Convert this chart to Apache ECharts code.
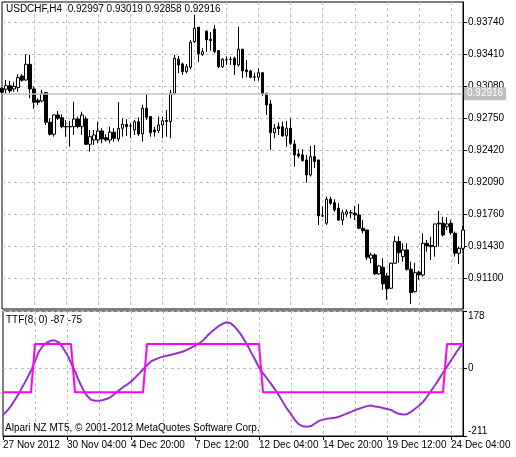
<!DOCTYPE html>
<html>
<head>
<meta charset="utf-8">
<title>USDCHF H4 TTF</title>
<script src="https://cdn.jsdelivr.net/npm/echarts@6/dist/echarts.min.js"></script>
<style>html,body{margin:0;padding:0;background:#fff}</style>
</head>
<body>
<div id="main" style="width:516px;height:457px;"></div>
<script>
// bottom axis labels, one every 16 bars
var tickLabels = ['27 Nov 2012', '30 Nov 04:00', '4 Dec 20:00', '7 Dec 12:00',
    '12 Dec 04:00', '14 Dec 20:00', '19 Dec 12:00', '24 Dec 04:00'];
var priceTicks = [0.91100, 0.91430, 0.91760, 0.92090, 0.92420, 0.92750, 0.93080, 0.93410, 0.93740];
var ttfTicks = [-211, 0, 178];
var bidPrice = 0.92916;

// USDCHF H4 bars
var opens = [
    0.93056, 0.93046, 0.93083, 0.93049, 0.93063, 0.93183, 0.93142, 0.93304,
    0.93049, 0.92933, 0.92925, 0.93011, 0.92706, 0.92582, 0.92781, 0.92753,
    0.92662, 0.92658, 0.92660, 0.92740, 0.92660, 0.92740, 0.92479, 0.92523,
    0.92523, 0.92616, 0.92547, 0.92523, 0.92603, 0.92534, 0.92644, 0.92685,
    0.92666, 0.92626, 0.92712, 0.92585, 0.92850, 0.92764, 0.92626, 0.92619,
    0.92678, 0.92724, 0.92712, 0.93005, 0.93356, 0.93307, 0.93228, 0.93273,
    0.93537, 0.93686, 0.93407, 0.93647, 0.93560, 0.93665, 0.93444, 0.93279,
    0.93346, 0.93352, 0.93366, 0.93297, 0.93459, 0.93244, 0.93235, 0.93171,
    0.93170, 0.93217, 0.93005, 0.92895, 0.92599, 0.92660, 0.92660, 0.92565,
    0.92644, 0.92482, 0.92379, 0.92369, 0.92317, 0.92162, 0.92351, 0.92317,
    0.91738, 0.91665, 0.91912, 0.91877, 0.91819, 0.91697, 0.91760, 0.91771,
    0.91767, 0.91750, 0.91613, 0.91595, 0.91303, 0.91337, 0.91142, 0.91211,
    0.91121, 0.90994, 0.91252, 0.91475, 0.91320, 0.91389, 0.91190, 0.90959,
    0.91162, 0.91131, 0.91458, 0.91437, 0.91423, 0.91665, 0.91665, 0.91629,
    0.91665, 0.91561, 0.91355, 0.91406
];
var closes = [
    0.93015, 0.93083, 0.93029, 0.93077, 0.93166, 0.93139, 0.93304, 0.93049,
    0.92912, 0.92912, 0.93005, 0.92706, 0.92582, 0.92781, 0.92747, 0.92660,
    0.92658, 0.92661, 0.92740, 0.92660, 0.92781, 0.92479, 0.92557, 0.92575,
    0.92616, 0.92534, 0.92523, 0.92603, 0.92541, 0.92644, 0.92685, 0.92660,
    0.92670, 0.92712, 0.92585, 0.92850, 0.92757, 0.92599, 0.92606, 0.92678,
    0.92722, 0.92714, 0.93005, 0.93366, 0.93297, 0.93228, 0.93279, 0.93531,
    0.93675, 0.93410, 0.93434, 0.93555, 0.93549, 0.93434, 0.93279, 0.93356,
    0.93350, 0.93356, 0.93297, 0.93459, 0.93235, 0.93228, 0.93170, 0.93175,
    0.93217, 0.92998, 0.92884, 0.92599, 0.92644, 0.92640, 0.92565, 0.92644,
    0.92489, 0.92369, 0.92358, 0.92310, 0.92162, 0.92351, 0.92300, 0.91740,
    0.91742, 0.91912, 0.91871, 0.91801, 0.91697, 0.91773, 0.91784, 0.91775,
    0.91750, 0.91613, 0.91588, 0.91314, 0.91337, 0.91142, 0.91224, 0.91039,
    0.90987, 0.91252, 0.91475, 0.91361, 0.91389, 0.91190, 0.90949, 0.91155,
    0.91131, 0.91458, 0.91430, 0.91423, 0.91657, 0.91657, 0.91544, 0.91657,
    0.91567, 0.91355, 0.91406, 0.91595
];
var lows = [
    0.93005, 0.93005, 0.93005, 0.93021, 0.93021, 0.93125, 0.93132, 0.92953,
    0.92843, 0.92884, 0.92912, 0.92678, 0.92568, 0.92557, 0.92730, 0.92644,
    0.92557, 0.92454, 0.92575, 0.92644, 0.92575, 0.92472, 0.92403, 0.92472,
    0.92489, 0.92489, 0.92506, 0.92489, 0.92506, 0.92506, 0.92557, 0.92565,
    0.92541, 0.92575, 0.92565, 0.92506, 0.92730, 0.92557, 0.92557, 0.92593,
    0.92541, 0.92557, 0.92541, 0.92987, 0.93211, 0.93194, 0.93211, 0.93252,
    0.93521, 0.93328, 0.93390, 0.93431, 0.93444, 0.93417, 0.93263, 0.93263,
    0.93297, 0.93297, 0.93194, 0.93279, 0.93160, 0.93170, 0.93160, 0.93132,
    0.93135, 0.92977, 0.92781, 0.92420, 0.92541, 0.92575, 0.92557, 0.92454,
    0.92472, 0.92248, 0.92335, 0.92300, 0.92083, 0.92145, 0.92232, 0.91647,
    0.91727, 0.91647, 0.91853, 0.91784, 0.91690, 0.91647, 0.91731, 0.91715,
    0.91697, 0.91603, 0.91561, 0.91286, 0.91252, 0.91131, 0.91131, 0.90977,
    0.90874, 0.90984, 0.91245, 0.91258, 0.91268, 0.91175, 0.90832, 0.90949,
    0.91080, 0.91113, 0.91371, 0.91286, 0.91320, 0.91423, 0.91527, 0.91595,
    0.91544, 0.91320, 0.91245, 0.91389
];
var highs = [
    0.93073, 0.93142, 0.93132, 0.93118, 0.93201, 0.93201, 0.93407, 0.93400,
    0.93073, 0.92953, 0.93039, 0.93015, 0.92747, 0.92785, 0.92822, 0.92788,
    0.92730, 0.92720, 0.92918, 0.92764, 0.92815, 0.92764, 0.92626, 0.92626,
    0.92712, 0.92644, 0.92582, 0.92660, 0.92644, 0.92915, 0.92747, 0.92737,
    0.92696, 0.92730, 0.92757, 0.92884, 0.92998, 0.92766, 0.92660, 0.92764,
    0.92764, 0.92832, 0.93039, 0.93400, 0.93390, 0.93320, 0.93307, 0.93555,
    0.93812, 0.93690, 0.93469, 0.93650, 0.93637, 0.93709, 0.93451, 0.93366,
    0.93383, 0.93383, 0.93383, 0.93692, 0.93462, 0.93348, 0.93245, 0.93217,
    0.93263, 0.93220, 0.93008, 0.92936, 0.92688, 0.92702, 0.92712, 0.92720,
    0.92747, 0.92523, 0.92427, 0.92427, 0.92369, 0.92462, 0.92472, 0.92320,
    0.91836, 0.91939, 0.91939, 0.91912, 0.91871, 0.91801, 0.91808, 0.91801,
    0.91843, 0.91864, 0.91697, 0.91598, 0.91361, 0.91355, 0.91235, 0.91303,
    0.91152, 0.91258, 0.91534, 0.91527, 0.91458, 0.91458, 0.91268, 0.91258,
    0.91175, 0.91561, 0.91492, 0.91527, 0.91660, 0.91791, 0.91731, 0.91727,
    0.91697, 0.91578, 0.91423, 0.91636
];

// TTF(8,0) line and its signal line
var ttf = [
    -146, -133, -118, -98, -78, -55, -32, -8,
    22, 52, 70, 80, 86, 86, 80, 63,
    43, 17, -10, -40, -66, -86, -98, -101,
    -101, -99, -95, -89, -79, -69, -59, -51,
    -42, -30, -17, -4, 9, 21, 27, 32,
    36, 39, 42, 45, 48, 52, 57, 63,
    70, 77, 86, 100, 112, 122, 132, 139,
    143, 139, 128, 113, 95, 74, 50, 27,
    2, -16, -32, -49, -66, -85, -106, -126,
    -143, -162, -175, -181, -182, -180, -172, -164,
    -160, -157, -156, -154, -151, -146, -141, -136,
    -131, -126, -122, -118, -116, -119, -121, -124,
    -127, -130, -137, -142, -144, -143, -136, -126,
    -117, -105, -89, -71, -53, -34, -14, 5,
    24, 43, 62, 78
];
var signal = [
    -75, -75, -75, -75, -75, -75, -75, -75,
    75, 75, 75, 75, 75, 75, 75, 75,
    75, 75, -75, -75, -75, -75, -75, -75,
    -75, -75, -75, -75, -75, -75, -75, -75,
    -75, -75, -75, -75, 75, 75, 75, 75,
    75, 75, 75, 75, 75, 75, 75, 75,
    75, 75, 75, 75, 75, 75, 75, 75,
    75, 75, 75, 75, 75, 75, 75, 75,
    75, -75, -75, -75, -75, -75, -75, -75,
    -75, -75, -75, -75, -75, -75, -75, -75,
    -75, -75, -75, -75, -75, -75, -75, -75,
    -75, -75, -75, -75, -75, -75, -75, -75,
    -75, -75, -75, -75, -75, -75, -75, -75,
    -75, -75, -75, -75, -75, -75, -75, 75,
    75, 75, 75, 75
];

var font = 'Liberation Sans, Arial, sans-serif';
var gridLine = { show: true, lineStyle: { color: '#c0c0c0', type: [3, 3], width: 1 } };

var cats = opens.map(function (v, i) { return String(i); });
var candles = opens.map(function (o, i) { return [o, closes[i], lows[i], highs[i]]; });

function everyEighth(index) {
    return index > 0 && index < opens.length - 1 && index % 8 === 0;
}

var myChart = echarts.init(document.getElementById('main'));

var option = {
    animation: false,
    backgroundColor: '#fff',
    title: [
        { text: 'USDCHF,H4  0.92997 0.93019 0.92858 0.92916', left: 6, top: 4, padding: 0,
          textStyle: { fontSize: 10, fontWeight: 'normal', color: '#000', fontFamily: font } },
        { text: 'TTF(8, 0) -87 -75', left: 6, top: 315, padding: 0,
          textStyle: { fontSize: 10, fontWeight: 'normal', color: '#000', fontFamily: font } },
        { text: 'Alpari NZ MT5, \u00a9 2001-2012 MetaQuotes Software Corp.', left: 5, top: 423, padding: 0,
          textStyle: { fontSize: 10, fontWeight: 'normal', color: '#000', fontFamily: font } }
    ],
    grid: [
        { left: 2, right: 53, top: 2, height: 307, show: true, borderColor: '#000', borderWidth: 1 },
        { left: 2, right: 53, top: 311, height: 125, show: true, borderColor: '#000', borderWidth: 1 }
    ],
    xAxis: [
        {
            gridIndex: 0, type: 'category', data: cats, boundaryGap: false,
            axisLine: { show: false, onZero: false }, axisTick: { show: false }, axisLabel: { show: false },
            splitLine: { show: true, interval: everyEighth, lineStyle: gridLine.lineStyle }
        },
        {
            gridIndex: 1, type: 'category', data: cats, boundaryGap: false,
            axisLine: { onZero: false, lineStyle: { color: '#000' } },
            axisTick: { interval: 15, length: 4, lineStyle: { color: '#000' } },
            axisLabel: {
                interval: 15, align: 'left', margin: 4, color: '#000', fontSize: 10, fontFamily: font,
                formatter: function (v, i) { return i % 16 === 0 ? tickLabels[i / 16] : ''; }
            },
            splitLine: { show: true, interval: everyEighth, lineStyle: gridLine.lineStyle }
        }
    ],
    yAxis: [
        {
            gridIndex: 0, type: 'value', position: 'right', min: 0.90780, max: 0.93946,
            axisLine: { show: true, lineStyle: { color: '#000' } },
            axisTick: { show: true, length: 4, customValues: priceTicks, lineStyle: { color: '#000' } },
            axisLabel: {
                customValues: priceTicks, margin: 5, color: '#000', fontSize: 10, fontFamily: font,
                formatter: function (v) { return v.toFixed(5); }
            },
            splitLine: gridLine
        },
        {
            gridIndex: 1, type: 'value', position: 'right', min: -211, max: 178,
            axisLine: { show: true, lineStyle: { color: '#000' } },
            axisTick: { show: true, length: 4, customValues: ttfTicks, lineStyle: { color: '#000' } },
            axisLabel: {
                customValues: ttfTicks, margin: 5, color: '#000', fontSize: 10, fontFamily: font,
                verticalAlignMaxLabel: 'top', verticalAlignMinLabel: 'bottom',
                formatter: function (v) { return String(Math.round(v)); }
            },
            splitLine: gridLine
        }
    ],
    series: [
        {
            name: 'USDCHF', type: 'candlestick', xAxisIndex: 0, yAxisIndex: 0,
            data: candles, barWidth: 3,
            itemStyle: { color: '#fff', color0: '#000', borderColor: '#000', borderColor0: '#000', borderWidth: 1 },
            markLine: {
                silent: true, symbol: 'none',
                lineStyle: { color: '#c0c0c0', type: 'solid', width: 1.5 },
                label: {
                    show: true, position: 'end', distance: 1, formatter: bidPrice.toFixed(5),
                    color: '#fff', backgroundColor: '#c0c0c0', padding: [2, 3, 1, 3],
                    fontSize: 10, fontFamily: font
                },
                data: [{ yAxis: bidPrice }]
            }
        },
        {
            name: 'TTF', type: 'line', xAxisIndex: 1, yAxisIndex: 1, data: ttf,
            showSymbol: false, lineStyle: { color: '#9932cc', width: 2 }, itemStyle: { color: '#9932cc' }
        },
        {
            name: 'Signal', type: 'line', xAxisIndex: 1, yAxisIndex: 1, data: signal,
            showSymbol: false, lineStyle: { color: '#ff00ff', width: 2 }, itemStyle: { color: '#ff00ff' }
        }
    ]
};

myChart.setOption(option);
</script>
</body>
</html>
